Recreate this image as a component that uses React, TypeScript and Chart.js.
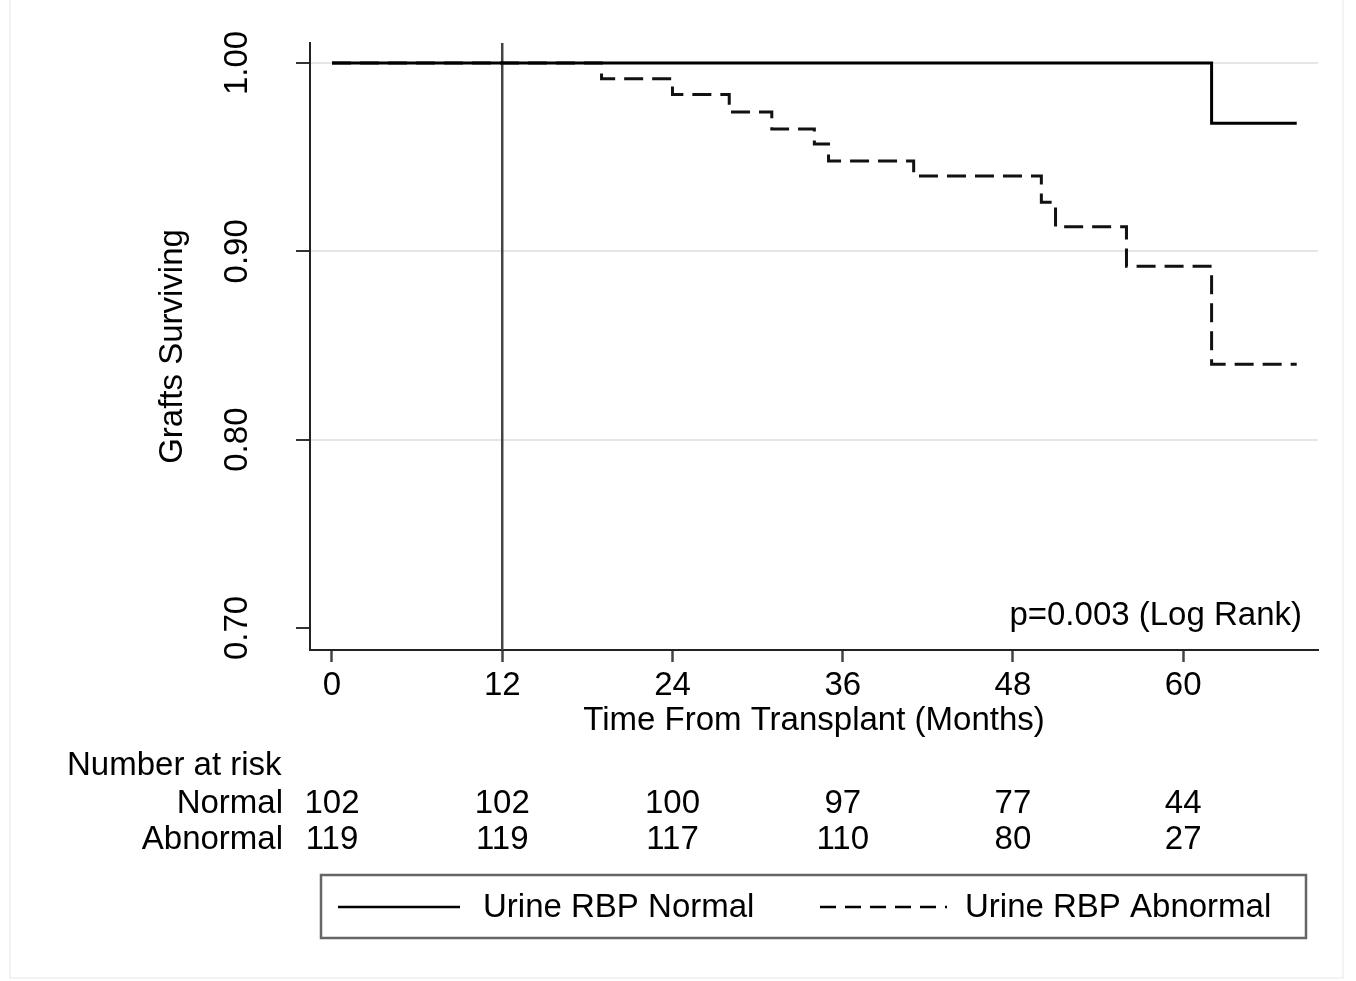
import React, { useEffect, useRef } from "react";
import { Chart, registerables } from "chart.js";

Chart.register(...registerables);

const FONT = '"Liberation Sans", Arial, Helvetica, sans-serif';
const FS = 33;

const xTicks = [0, 12, 24, 36, 48, 60];
const yTicks = [0.7, 0.8, 0.9, 1.0];
const yTickLabels = ["0.70", "0.80", "0.90", "1.00"];
const gridValues = [0.8, 0.9, 1.0];

const normalTimes = [0, 62, 68];
const normalSurv = [1.0, 0.968, 0.968];
const abnormalTimes = [0, 19, 24, 28, 31, 34, 35, 41, 50, 51, 56, 62, 68];
const abnormalSurv = [1.0, 0.9916, 0.9832, 0.974, 0.965, 0.957, 0.948, 0.94, 0.926, 0.913, 0.892, 0.84, 0.84];
const landmarkMonth = 12;

const riskTitle = "Number at risk";
const riskGroups = ["Normal", "Abnormal"];
const riskNormal = [102, 102, 100, 97, 77, 44];
const riskAbnormal = [119, 119, 117, 110, 80, 27];

const legendLabels = ["Urine RBP Normal", "Urine RBP Abnormal"];
const xTitle = "Time From Transplant (Months)";
const yTitle = "Grafts Surviving";
const pValueText = "p=0.003 (Log Rank)";

const X_MIN = -1.55;
const X_MAX = 69.5;
const Y_MIN = 0.6883;
const Y_MAX = 1.0106;

const extrasPlugin = {
  id: "extras",
  afterDraw(chart: any) {
    const ctx = chart.ctx as CanvasRenderingContext2D;
    const xs = chart.scales.x;
    const ys = chart.scales.y;
    ctx.save();
    // faint outer frame
    ctx.strokeStyle = "#f3f3f3";
    ctx.lineWidth = 2;
    ctx.strokeRect(10, -5, 1333, 983);

    ctx.fillStyle = "#000";
    ctx.font = `${FS}px ${FONT}`;

    // y tick labels (rotated)
    yTicks.forEach((v, i) => {
      const py = ys.getPixelForValue(v);
      ctx.save();
      ctx.translate(238, py);
      ctx.rotate(-Math.PI / 2);
      ctx.textAlign = "center";
      ctx.textBaseline = "middle";
      ctx.fillText(yTickLabels[i], 0, 0);
      ctx.restore();
    });

    // p value
    ctx.textAlign = "right";
    ctx.textBaseline = "middle";
    ctx.fillText(pValueText, 1302, 616);

    // risk table
    ctx.textAlign = "left";
    ctx.fillText(riskTitle, 67, 766);
    const rows = [riskNormal, riskAbnormal];
    const rowY = [804, 840];
    riskGroups.forEach((g, r) => {
      ctx.textAlign = "right";
      ctx.fillText(g, 283, rowY[r]);
      ctx.textAlign = "center";
      rows[r].forEach((n, i) => {
        ctx.fillText(String(n), xs.getPixelForValue(xTicks[i]), rowY[r]);
      });
    });

    // legend
    ctx.strokeStyle = "#666";
    ctx.lineWidth = 2.5;
    ctx.strokeRect(321, 875, 985, 63);
    ctx.strokeStyle = "#000";
    ctx.lineWidth = 2.5;
    ctx.beginPath();
    ctx.moveTo(338, 907);
    ctx.lineTo(460, 907);
    ctx.stroke();
    ctx.setLineDash([16, 9]);
    ctx.beginPath();
    ctx.moveTo(820, 907);
    ctx.lineTo(947, 907);
    ctx.stroke();
    ctx.setLineDash([]);
    ctx.textAlign = "left";
    ctx.fillText(legendLabels[0], 483, 908);
    ctx.fillText(legendLabels[1], 965, 908);
    ctx.restore();
  },
};

export default function App() {
  const ref = useRef<HTMLCanvasElement | null>(null);
  useEffect(() => {
    if (!ref.current) return;
    const chart = new Chart(ref.current, {
      type: "line",
      data: {
        datasets: [
          {
            label: legendLabels[0],
            data: normalTimes.map((t, i) => ({ x: t, y: normalSurv[i] })),
            borderColor: "#000",
            borderWidth: 3,
            stepped: true,
            pointRadius: 0,
            fill: false,
            order: 1,
          },
          {
            label: legendLabels[1],
            data: abnormalTimes.map((t, i) => ({ x: t, y: abnormalSurv[i] })),
            borderColor: "#111",
            borderWidth: 3,
            borderDash: [19, 9],
            stepped: true,
            pointRadius: 0,
            fill: false,
            order: 2,
          },
          {
            label: "landmark",
            data: [
              { x: landmarkMonth, y: Y_MIN },
              { x: landmarkMonth, y: Y_MAX },
            ],
            borderColor: "#444",
            borderWidth: 2.5,
            pointRadius: 0,
            fill: false,
            order: 3,
          },
        ],
      },
      options: {
        responsive: false,
        animation: false,
        devicePixelRatio: 1,
        layout: { padding: { left: 153, right: 38, top: 43, bottom: 240 } },
        plugins: {
          legend: { display: false },
          tooltip: { enabled: false },
          title: { display: false },
        },
        scales: {
          x: {
            type: "linear",
            min: X_MIN,
            max: X_MAX,
            afterBuildTicks: (s: any) => {
              s.ticks = xTicks.map((v) => ({ value: v }));
            },
            afterFit: (s: any) => {
              s.height = 91;
            },
            ticks: {
              color: "#000",
              font: { family: FONT, size: FS },
              padding: 4,
              maxRotation: 0,
              autoSkip: false,
              callback: (v: any) => String(v),
            },
            grid: {
              drawOnChartArea: false,
              tickLength: 12,
              tickColor: "#444",
              tickWidth: 2.5,
            },
            border: { display: true, color: "#222", width: 2 },
            title: {
              display: true,
              text: xTitle,
              color: "#000",
              font: { family: FONT, size: FS },
              padding: 0,
            },
          },
          y: {
            type: "linear",
            min: Y_MIN,
            max: Y_MAX,
            afterBuildTicks: (s: any) => {
              s.ticks = yTicks.map((v) => ({ value: v }));
            },
            afterFit: (s: any) => {
              s.width = 157;
            },
            ticks: { display: false },
            grid: {
              color: (c: any) =>
                c.tick && gridValues.some((g) => Math.abs(g - c.tick.value) < 1e-6) ? "#e6e6e6" : "rgba(0,0,0,0)",
              lineWidth: 2,
              tickLength: 14,
              tickColor: "#333",
              tickWidth: 2,
            },
            border: { display: true, color: "#222", width: 2 },
            title: {
              display: true,
              text: yTitle,
              color: "#000",
              font: { family: FONT, size: FS },
              padding: 0,
            },
          },
        },
      },
      plugins: [extrasPlugin],
    });
    return () => chart.destroy();
  }, []);
  return (
    <div style={{ position: "fixed", left: 0, top: 0, width: 1356, height: 981, background: "#fff" }}>
      <canvas ref={ref} width={1356} height={981} style={{ display: "block" }} />
    </div>
  );
}
